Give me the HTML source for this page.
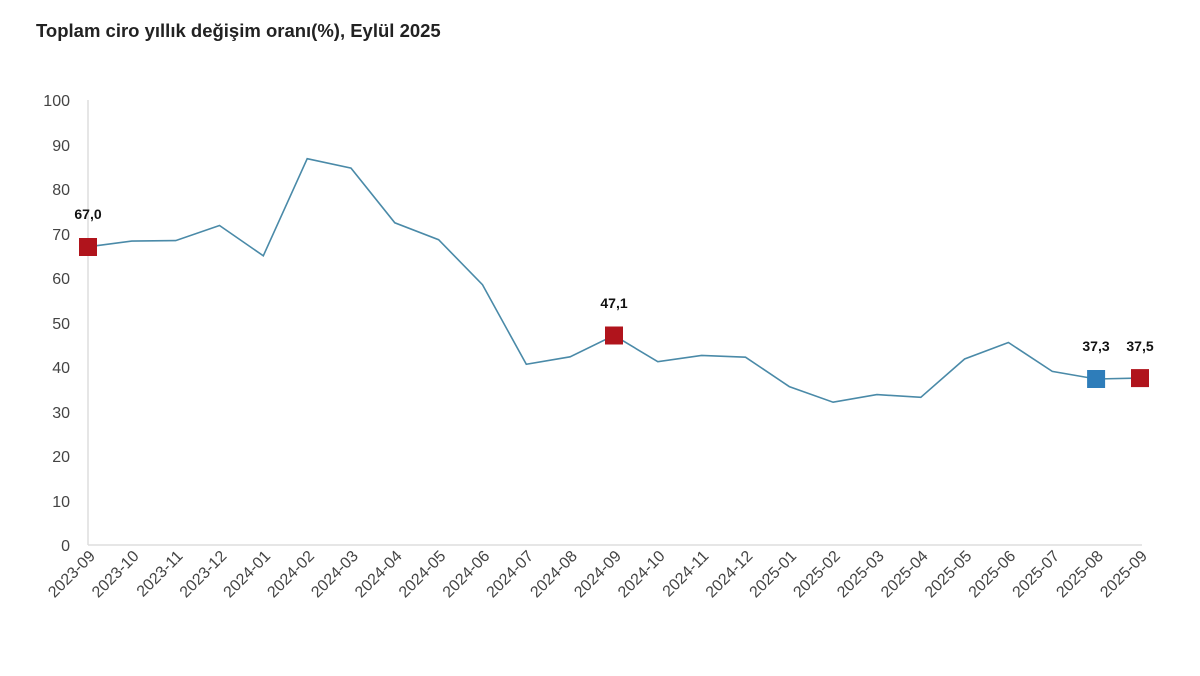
<!DOCTYPE html>
<html><head><meta charset="utf-8"><style>
body{margin:0;background:#fff;width:1200px;height:676px;overflow:hidden}
svg{display:block}
</style></head><body>
<svg width="1200" height="676" viewBox="0 0 1200 676" font-family="Liberation Sans, sans-serif">
<text x="36" y="37" font-size="18.5" font-weight="bold" fill="#222">Toplam ciro yıllık değişim oranı(%), Eylül 2025</text>
<g fill="#444" font-size="16" text-anchor="end">
<text x="70" y="106">100</text><text x="70" y="151">90</text><text x="70" y="195">80</text>
<text x="70" y="240">70</text><text x="70" y="284">60</text><text x="70" y="329">50</text>
<text x="70" y="373">40</text><text x="70" y="418">30</text><text x="70" y="462">20</text>
<text x="70" y="507">10</text><text x="70" y="551">0</text>
</g>
<line x1="88" y1="100" x2="88" y2="545" stroke="#ddd" stroke-width="1.5"/>
<line x1="88" y1="545" x2="1142" y2="545" stroke="#ddd" stroke-width="1.5"/>
<polyline fill="none" stroke="#4a8aa8" stroke-width="1.6" points="88,246.8 131.8,241.1 175.7,240.6 219.5,225.5 263.3,255.8 307.2,158.7 351,168.1 394.8,222.8 438.6,239.7 482.5,284.7 526.3,364.3 570.1,356.8 614,335.4 657.8,361.7 701.6,355.4 745.5,357.2 789.3,386.6 833.1,402.2 876.9,394.6 920.8,397.3 964.6,359 1008.4,342.5 1052.3,371.4 1096.1,379 1140,378.1"/>
<rect x="79" y="238" width="18" height="18" fill="#b0141c"/>
<rect x="605" y="326.5" width="18" height="18" fill="#b0141c"/>
<rect x="1087.1" y="370" width="18" height="18" fill="#2e7dba"/>
<rect x="1131" y="369.1" width="18" height="18" fill="#b0141c"/>
<g font-size="14" font-weight="bold" fill="#111" text-anchor="middle">
<text x="88" y="219">67,0</text><text x="614" y="308">47,1</text>
<text x="1096" y="351">37,3</text><text x="1140" y="351">37,5</text>
</g>
<g fill="#444" font-size="16" text-anchor="end">
<text transform="translate(96,557) rotate(-45)">2023-09</text>
<text transform="translate(139.8,557) rotate(-45)">2023-10</text>
<text transform="translate(183.7,557) rotate(-45)">2023-11</text>
<text transform="translate(227.5,557) rotate(-45)">2023-12</text>
<text transform="translate(271.3,557) rotate(-45)">2024-01</text>
<text transform="translate(315.2,557) rotate(-45)">2024-02</text>
<text transform="translate(359,557) rotate(-45)">2024-03</text>
<text transform="translate(402.8,557) rotate(-45)">2024-04</text>
<text transform="translate(446.6,557) rotate(-45)">2024-05</text>
<text transform="translate(490.5,557) rotate(-45)">2024-06</text>
<text transform="translate(534.3,557) rotate(-45)">2024-07</text>
<text transform="translate(578.1,557) rotate(-45)">2024-08</text>
<text transform="translate(622,557) rotate(-45)">2024-09</text>
<text transform="translate(665.8,557) rotate(-45)">2024-10</text>
<text transform="translate(709.6,557) rotate(-45)">2024-11</text>
<text transform="translate(753.5,557) rotate(-45)">2024-12</text>
<text transform="translate(797.3,557) rotate(-45)">2025-01</text>
<text transform="translate(841.1,557) rotate(-45)">2025-02</text>
<text transform="translate(884.9,557) rotate(-45)">2025-03</text>
<text transform="translate(928.8,557) rotate(-45)">2025-04</text>
<text transform="translate(972.6,557) rotate(-45)">2025-05</text>
<text transform="translate(1016.4,557) rotate(-45)">2025-06</text>
<text transform="translate(1060.3,557) rotate(-45)">2025-07</text>
<text transform="translate(1104.1,557) rotate(-45)">2025-08</text>
<text transform="translate(1148,557) rotate(-45)">2025-09</text>
</g>
</svg>
</body></html>
